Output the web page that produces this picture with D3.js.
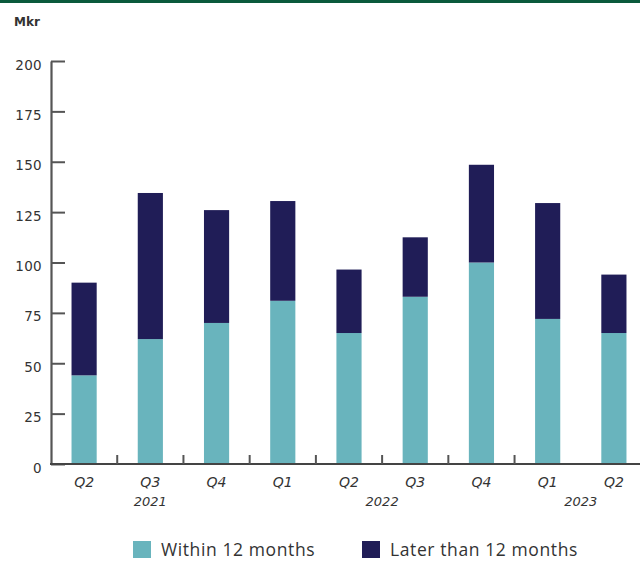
<!DOCTYPE html>
<html><head><meta charset="utf-8">
<script src="https://cdn.jsdelivr.net/npm/d3@7"></script>
<style>body{margin:0;background:#fff;}svg{display:block;}</style>
</head><body>
<svg id="c" width="640" height="563"></svg>
<script>
const quarters = ["Q2","Q3","Q4","Q1","Q2","Q3","Q4","Q1","Q2"];
const years = ["2021","2021","2021","2022","2022","2022","2022","2023","2023"];
const within = [44, 62, 70, 81, 65, 83, 100, 72, 65];
const later = [46, 72.5, 56, 49.5, 31.5, 29.5, 48.5, 57.5, 29];
const yTicks = [0,25,50,75,100,125,150,175,200];
const seriesNames = ["Within 12 months","Later than 12 months"];
const colors = ["#69b4bd","#201d57"];

const svg = d3.select("#c");
const keys = quarters.map((q,i)=>i);
const x = d3.scaleBand().domain(keys).range([51,647]).paddingInner(0.62).paddingOuter(0.31);
const y = d3.scaleLinear().domain([0,200]).range([464,61]);
const lblFont = "'DejaVu Sans', sans-serif";

// top green band
svg.append("rect").attr("x",0).attr("y",0).attr("width",640).attr("height",3).attr("fill","#0b5a3c");

const rows = keys.map(i=>({i, within:within[i], later:later[i]}));
const stack = d3.stack().keys(["within","later"])(rows);
svg.selectAll("g.s").data(stack).join("g").attr("fill",(d,k)=>colors[k])
  .selectAll("rect").data(d=>d).join("rect")
  .attr("x",d=>x(d.data.i)).attr("width",x.bandwidth())
  .attr("y",d=>y(d[1])).attr("height",d=>y(d[0])-y(d[1]));

// y axis
const ya = svg.append("g").attr("transform","translate(51,0)")
  .call(d3.axisRight(y).tickValues(yTicks).tickSize(14).tickSizeOuter(0).tickFormat(d3.format("d")));
ya.select(".domain").attr("stroke","#555").attr("stroke-width",2.2);
ya.selectAll(".tick line").attr("stroke","#555").attr("stroke-width",2);
ya.selectAll(".tick text").attr("x",-9).attr("dy","0.6em").attr("text-anchor","end")
  .attr("font-family",lblFont).attr("font-size",13.5).attr("letter-spacing",0.3).attr("fill","#333");

// x axis line
svg.append("line").attr("x1",50).attr("x2",640).attr("y1",464).attr("y2",464).attr("stroke","#444").attr("stroke-width",2);
// between-quarter ticks (none before the last bar)
const tickIdx = keys.slice(1, keys.length-1);
svg.selectAll("line.xt").data(tickIdx).join("line").attr("class","xt")
  .attr("x1",i=>x(i)-x.step()*x.paddingInner()/2).attr("x2",i=>x(i)-x.step()*x.paddingInner()/2)
  .attr("y1",455).attr("y2",464).attr("stroke","#555").attr("stroke-width",2);

// quarter labels
svg.selectAll("text.q").data(keys).join("text").attr("class","q")
  .attr("x",i=>x(i)+x.bandwidth()/2).attr("y",487).attr("text-anchor","middle")
  .attr("font-family",lblFont).attr("font-style","italic").attr("font-size",14).attr("fill","#333")
  .text(i=>quarters[i]);

// year labels centered over their quarters
const yearGroups = d3.groups(keys, i=>years[i]);
svg.selectAll("text.yr").data(yearGroups).join("text").attr("class","yr")
  .attr("x",d=>{const f=d[1][0], l=d[1][d[1].length-1]; return (x(f)+x(l)+x.bandwidth())/2;})
  .attr("y",506).attr("text-anchor","middle")
  .attr("font-family",lblFont).attr("font-style","italic").attr("font-size",13).attr("fill","#333")
  .text(d=>d[0]);

// unit label
svg.append("text").attr("x",14).attr("y",26).attr("font-family",lblFont)
  .attr("font-size",12).attr("font-weight","bold").attr("fill","#333").text("Mkr");

// legend
const legX = [133, 362];
const lg = svg.selectAll("g.lg").data(seriesNames).join("g").attr("class","lg")
  .attr("transform",(d,k)=>`translate(${legX[k]},541)`);
lg.append("rect").attr("width",18).attr("height",17).attr("fill",(d,k)=>colors[k]);
lg.append("text").attr("x",28).attr("y",15).attr("font-family","'Open Sans', sans-serif")
  .attr("font-size",17.5).attr("letter-spacing",0.6).attr("fill","#333").text(d=>d);
</script>
</body></html>
